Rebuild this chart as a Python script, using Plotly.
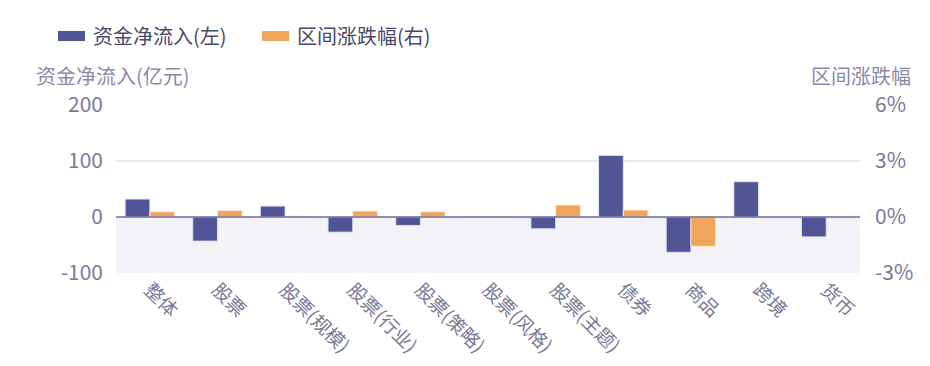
import plotly.graph_objects as go

categories = ['整体', '股票', '股票(规模)', '股票(行业)', '股票(策略)', '股票(风格)',
              '股票(主题)', '债券', '商品', '跨境', '货币']
net_flow = [32, -43, 19.5, -27, -15, 0.3, -21, 110, -63, 63, -35.5]
pct_change = [0.28, 0.35, 0.05, 0.32, 0.28, 0.04, 0.64, 0.37, -1.57, 0.0, 0.0]

left_ticks = [-100, 0, 100, 200]
left_labels = ['-100', '0', '100', '200']
right_ticks = [-3, 0, 3, 6]
right_labels = ['-3%', '0%', '3%', '6%']

BLUE = '#4f5595'
ORANGE = '#efa55a'
TXT = '#7b7995'
FONT = 'Noto Sans CJK SC'

# page body has an 8px margin, so the figure starts at (8, 8) in the window
OFF = 8
W, H = 930 - OFF, 366 - OFF
L, R, T, B = 116 - OFF, 70, 105 - OFF, 93
PW, PH = W - L - R, H - T - B

fig = go.Figure()
fig.add_trace(go.Bar(x=categories, y=net_flow, name='资金净流入(左)', yaxis='y',
                     offsetgroup='a', marker=dict(color=BLUE, line=dict(color='rgba(225,225,240,0.9)', width=1))))
fig.add_trace(go.Bar(x=categories, y=pct_change, name='区间涨跌幅(右)', yaxis='y2',
                     offsetgroup='b', marker=dict(color=ORANGE, line=dict(color='rgba(255,235,215,0.9)', width=1))))

fig.update_layout(
    width=W, height=H,
    margin=dict(l=L, r=R, t=T, b=B, autoexpand=False),
    paper_bgcolor='white', plot_bgcolor='white',
    font=dict(family=FONT, color=TXT, size=18),
    barmode='group', bargap=0.27, bargroupgap=0,
    showlegend=False,
    xaxis=dict(tickangle=45, tickfont=dict(size=19, color=TXT), showgrid=False,
               showline=False, ticks='', zeroline=False, automargin=False,
               ticklabelstandoff=1),
    yaxis=dict(range=[-100, 200], tickvals=left_ticks, ticktext=left_labels,
               showgrid=True, gridcolor='#e9e9f5',
               gridwidth=1.5, zeroline=False, tickfont=dict(size=21, color=TXT), ticks='',
               ticklabelstandoff=12, automargin=False),
    yaxis2=dict(range=[-3, 6], tickvals=right_ticks, ticktext=right_labels,
                overlaying='y', side='right', showgrid=False, zeroline=False,
                tickfont=dict(size=21, color=TXT), ticklabelstandoff=14, automargin=False),
)

# shaded negative area and zero line
fig.add_shape(type='rect', xref='paper', yref='y', x0=0, x1=1, y0=-100, y1=0,
              fillcolor='#f3f3f7', line_width=0, layer='below')
fig.add_shape(type='line', xref='paper', yref='y', x0=0, x1=1, y0=0, y1=0,
              line=dict(color='#716f9c', width=1.5), layer='above')

def px_x(x):
    return (x - OFF - L) / PW

def px_y(y):
    return (H - B - (y - OFF)) / PH

# axis titles
fig.add_annotation(text='资金净流入(亿元)', xref='paper', yref='paper', x=px_x(34), y=px_y(75),
                   xanchor='left', yanchor='middle', showarrow=False,
                   font=dict(size=20, color='#8b89a3'))
fig.add_annotation(text='区间涨跌幅', xref='paper', yref='paper', x=px_x(913), y=px_y(75),
                   xanchor='right', yanchor='middle', showarrow=False,
                   font=dict(size=20, color='#8b89a3'))

# manual legend
legend_items = [('资金净流入(左)', BLUE, 58), ('区间涨跌幅(右)', ORANGE, 262)]
for label, color, x0 in legend_items:
    fig.add_shape(type='rect', xref='paper', yref='paper',
                  x0=px_x(x0), x1=px_x(x0 + 27),
                  y0=px_y(41), y1=px_y(31),
                  fillcolor=color, line_width=0)
    fig.add_annotation(text=label, xref='paper', yref='paper', x=px_x(x0 + 33),
                       y=px_y(36), xanchor='left', yanchor='middle',
                       showarrow=False, font=dict(size=20, color='#4a4866'))

fig.write_html('out.html')
